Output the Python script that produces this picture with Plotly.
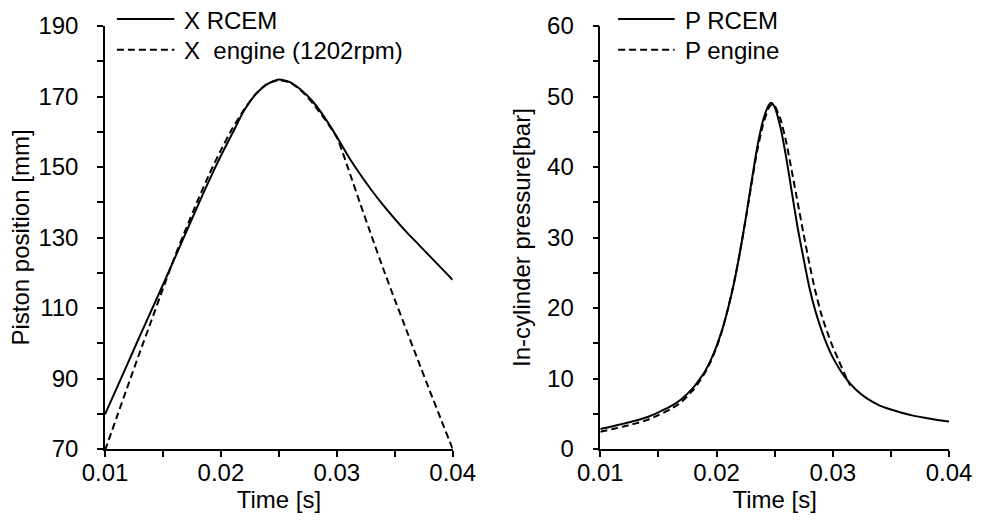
import plotly.graph_objects as go

# ---------------- data ----------------
# Piston position, RCEM (solid)
t_x_rcem = [0.0100, 0.0110, 0.0120, 0.0130, 0.0140, 0.0150, 0.0160, 0.0170, 0.0180, 0.0190,
            0.0200, 0.0210, 0.0220, 0.0230, 0.0240, 0.0250, 0.0260, 0.0270, 0.0280, 0.0290,
            0.0300, 0.0310, 0.0320, 0.0330, 0.0340, 0.0350, 0.0360, 0.0370, 0.0380, 0.0390, 0.0400]
x_rcem = [79.8, 87.2, 94.6, 102.0, 109.3, 116.6, 124.0, 131.5, 139.0, 146.3,
          153.2, 159.6, 166.0, 170.6, 173.5, 174.8, 174.0, 171.6, 168.3, 163.8,
          158.6, 153.0, 148.0, 143.4, 139.2, 135.3, 131.6, 128.2, 124.8, 121.4, 118.0]

# Piston position, engine 1202 rpm (dashed)
t_x_eng = [0.0100, 0.0110, 0.0120, 0.0130, 0.0140, 0.0150, 0.0160, 0.0170, 0.0180, 0.0190,
           0.0200, 0.0210, 0.0220, 0.0230, 0.0240, 0.0250, 0.0260, 0.0270, 0.0280, 0.0290,
           0.0300, 0.0305, 0.0310, 0.0320, 0.0330, 0.0340, 0.0350, 0.0360, 0.0370, 0.0380,
           0.0390, 0.0400]
x_eng = [69.6, 78.9, 88.2, 97.4, 106.4, 115.5, 124.4, 132.6, 140.5, 148.0,
         154.8, 161.0, 166.3, 170.7, 173.6, 174.6, 173.9, 171.4, 167.8, 163.4,
         158.4, 154.2, 149.4, 139.8, 130.4, 121.2, 112.4, 103.8, 95.2, 86.7,
         78.3, 70.0]

# In-cylinder pressure, RCEM (solid)
t_p_rcem = [0.0100, 0.0110, 0.0120, 0.0130, 0.0140, 0.0150, 0.0160, 0.0170, 0.0180, 0.0185,
            0.0190, 0.0195, 0.0200, 0.0205, 0.0210, 0.0215, 0.0220, 0.0225, 0.0230, 0.0235,
            0.0240, 0.0245, 0.0247, 0.0250, 0.0255, 0.0260, 0.0265, 0.0270, 0.0275, 0.0280,
            0.0285, 0.0290, 0.0295, 0.0300, 0.0310, 0.0320, 0.0330, 0.0340, 0.0350, 0.0360,
            0.0370, 0.0380, 0.0390, 0.0400]
p_rcem = [2.85, 3.2, 3.6, 4.0, 4.5, 5.2, 6.0, 7.1, 8.7, 9.8,
          11.0, 12.6, 14.6, 17.0, 20.0, 23.5, 27.8, 32.6, 37.8, 42.8,
          46.6, 48.8, 49.1, 48.5, 45.6, 41.3, 36.2, 31.2, 26.9, 22.8,
          19.6, 17.0, 14.8, 13.0, 10.3, 8.4, 7.1, 6.2, 5.6, 5.1,
          4.7, 4.4, 4.1, 3.9]

# In-cylinder pressure, engine (dashed)
t_p_eng = [0.0100, 0.0110, 0.0120, 0.0130, 0.0140, 0.0150, 0.0160, 0.0170, 0.0180, 0.0185,
           0.0190, 0.0195, 0.0200, 0.0205, 0.0210, 0.0215, 0.0220, 0.0225, 0.0230, 0.0235,
           0.0240, 0.0245, 0.0248, 0.0250, 0.0255, 0.0260, 0.0265, 0.0270, 0.0275, 0.0280,
           0.0285, 0.0290, 0.0295, 0.0300, 0.0305, 0.0310, 0.0315]
p_eng = [2.45, 2.8, 3.2, 3.6, 4.1, 4.8, 5.6, 6.7, 8.4, 9.5,
         10.8, 12.4, 14.4, 16.9, 20.0, 23.6, 27.8, 32.5, 37.5, 42.3,
         46.0, 48.4, 48.9, 48.7, 46.8, 43.5, 39.2, 34.8, 30.4, 26.2,
         22.4, 19.2, 16.7, 14.5, 12.6, 10.7, 9.0]

x_ticks = [0.01, 0.02, 0.03, 0.04]
left_legend = ["X RCEM", "X\u00a0 engine (1202rpm)"]
right_legend = ["P RCEM", "P engine"]

# ---------------- figure ----------------
W, H = 984, 523
ML, MR, MT, MB = 105, 27, 22, 74
PW = W - ML - MR
PH = H - MT - MB
FONT = "Liberation Sans, Arial, sans-serif"
FS = 24
DASH = "7px,4px"


def px_x(p):
    return (p - ML) / PW


def px_y(p):
    return (H - MB - p) / PH


fig = go.Figure()
line_solid = dict(color="black", width=2, shape="spline", smoothing=0.6)
line_dash = dict(color="black", width=2, dash=DASH, shape="spline", smoothing=0.6)
fig.add_trace(go.Scatter(x=t_x_rcem, y=x_rcem, mode="lines", name=left_legend[0],
                         line=line_solid, xaxis="x", yaxis="y", showlegend=False))
fig.add_trace(go.Scatter(x=t_x_eng, y=x_eng, mode="lines", name=left_legend[1],
                         line=line_dash, xaxis="x", yaxis="y", showlegend=False))
fig.add_trace(go.Scatter(x=t_p_rcem, y=p_rcem, mode="lines", name=right_legend[0],
                         line=line_solid, xaxis="x2", yaxis="y2", showlegend=False))
fig.add_trace(go.Scatter(x=t_p_eng, y=p_eng, mode="lines", name=right_legend[1],
                         line=line_dash, xaxis="x2", yaxis="y2", showlegend=False))

axis_common = dict(showline=True, linecolor="black", linewidth=1.5, ticks="outside",
                   ticklen=6, tickwidth=1.5, tickcolor="black", showgrid=False, zeroline=False,
                   tickfont=dict(family=FONT, size=FS, color="black"), mirror=False)

xa = dict(axis_common, range=[0.01, 0.04], tickvals=x_ticks, tickformat=".2f",
          ticklabelstandoff=-5,
          minor=dict(dtick=0.005, tick0=0.01, ticks="outside", ticklen=6, tickwidth=1.5,
                     tickcolor="black", showgrid=False),
          title=dict(text="Time [s]", font=dict(family=FONT, size=FS, color="black"), standoff=6))

fig.update_layout(
    width=W, height=H,
    margin=dict(l=ML, r=MR, t=MT, b=MB),
    paper_bgcolor="white", plot_bgcolor="white",
    font=dict(family=FONT, size=FS, color="black"),
    xaxis=dict(xa, domain=[0, px_x(456)], anchor="y"),
    yaxis=dict(axis_common, range=[70, 190], tick0=70, dtick=20, anchor="x",
               ticklabelstandoff=14,
               minor=dict(dtick=10, tick0=70, ticks="outside", ticklen=6, tickwidth=1.5,
                          tickcolor="black", showgrid=False),
               title=dict(text="Piston position [mm]",
                          font=dict(family=FONT, size=FS, color="black"), standoff=2)),
    xaxis2=dict(xa, domain=[px_x(605), 1], anchor="y2"),
    yaxis2=dict(axis_common, range=[0, 60], tick0=0, dtick=10, anchor="x2",
                ticklabelstandoff=14,
                minor=dict(dtick=5, tick0=0, ticks="outside", ticklen=6, tickwidth=1.5,
                           tickcolor="black", showgrid=False),
                title=dict(text="In-cylinder pressure[bar]",
                           font=dict(family=FONT, size=FS, color="black"), standoff=10)),
)

# manual legends (sample lines + labels)
legend_spec = [
    (117, 175, 183, left_legend),
    (623, 680, 688, right_legend),
]
rows_y = [15, 46]
for x0, x1, xt, labels in legend_spec:
    for i, (lab, yy) in enumerate(zip(labels, rows_y)):
        fig.add_shape(type="line", xref="paper", yref="paper",
                      x0=px_x(x0), x1=px_x(x1), y0=px_y(yy), y1=px_y(yy),
                      line=dict(color="black", width=2, dash=None if i == 0 else DASH))
        fig.add_annotation(xref="paper", yref="paper", x=px_x(xt), y=px_y(yy + 1),
                           text=lab, showarrow=False, xanchor="left", yanchor="middle",
                           font=dict(family=FONT, size=FS, color="black"))

fig.write_html("out.html")
